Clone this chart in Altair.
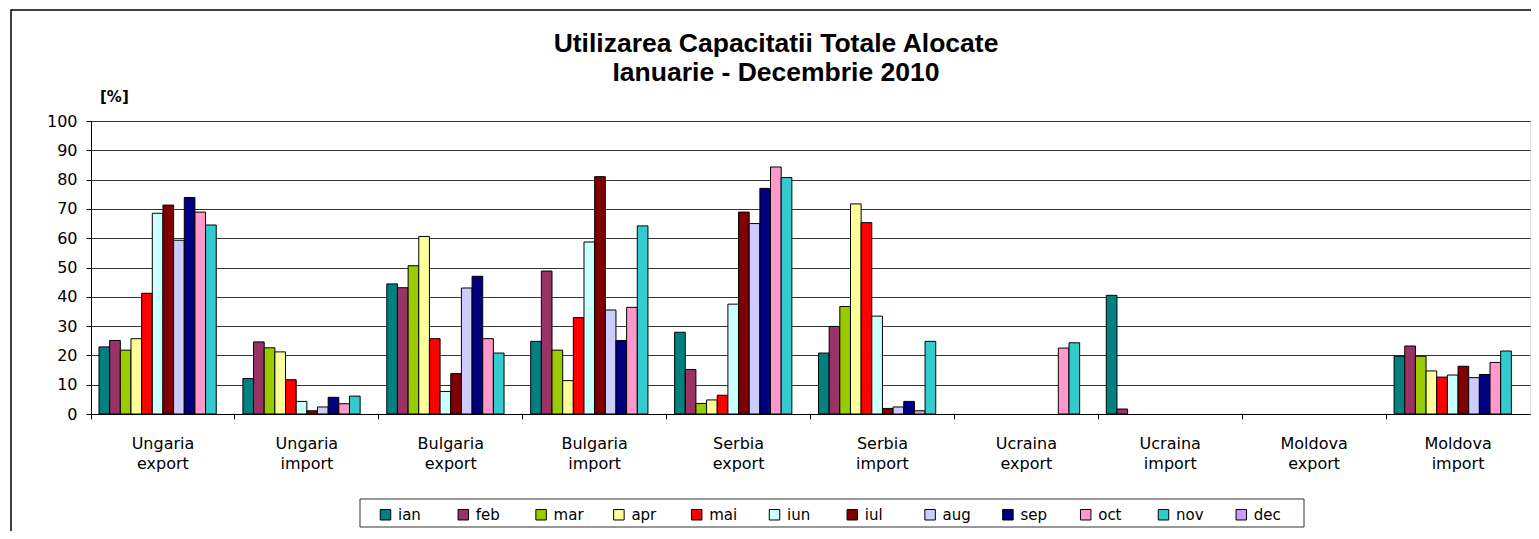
import altair as alt
import pandas as pd

months = ["ian", "feb", "mar", "apr", "mai", "iun", "iul", "aug", "sep", "oct", "nov", "dec"]
month_colors = ["#008080", "#993366", "#99CC00", "#FFFF99", "#FF0000", "#CCFFFF",
                "#800000", "#CCCCFF", "#000080", "#FF99CC", "#33CCCC", "#CC99FF"]
categories = ["Ungaria export", "Ungaria import", "Bulgaria export", "Bulgaria import",
              "Serbia export", "Serbia import", "Ucraina export", "Ucraina import",
              "Moldova export", "Moldova import"]

ungaria_export = [22.9, 25.1, 21.8, 25.7, 41.2, 68.5, 71.3, 59.3, 73.9, 68.9, 64.5, None]
ungaria_import = [12.1, 24.6, 22.6, 21.2, 11.7, 4.3, 1.1, 2.4, 5.7, 3.5, 6.1, None]
bulgaria_export = [44.4, 43.1, 50.6, 60.6, 25.7, 7.7, 13.8, 43.0, 47.0, 25.7, 20.8, None]
bulgaria_import = [24.8, 48.8, 21.8, 11.4, 32.9, 58.7, 81.0, 35.5, 25.1, 36.4, 64.2, None]
serbia_export = [27.9, 15.2, 3.6, 4.8, 6.4, 37.5, 68.9, 65.0, 77.0, 84.3, 80.7, None]
serbia_import = [20.8, 29.9, 36.7, 71.7, 65.3, 33.4, 1.9, 2.4, 4.3, 1.1, 24.8, None]
ucraina_export = [None, None, None, None, None, None, None, None, None, 22.5, 24.3, None]
ucraina_import = [40.5, 1.7, None, None, None, None, None, None, None, None, None, None]
moldova_export = [None, None, None, None, None, None, None, None, None, None, None, None]
moldova_import = [19.7, 23.2, 19.7, 14.7, 12.6, 13.3, 16.3, 12.4, 13.5, 17.6, 21.5, None]

series = [ungaria_export, ungaria_import, bulgaria_export, bulgaria_import, serbia_export,
          serbia_import, ucraina_export, ucraina_import, moldova_export, moldova_import]

title_line1 = "Utilizarea Capacitatii Totale Alocate"
title_line2 = "Ianuarie - Decembrie 2010"
unit_label = "[%]"

rows = []
for cat, vals in zip(categories, series):
    for m, v in zip(months, vals):
        if v is not None:
            rows.append({"cat": cat, "month": m, "value": v})
df = pd.DataFrame(rows)

W, H = 1439, 293
FONT = "DejaVu Sans"

bars = alt.Chart(df).mark_bar(stroke="black", strokeWidth=1).encode(
    x=alt.X("cat:N", sort=categories,
            scale=alt.Scale(domain=categories, paddingInner=0, paddingOuter=0),
            axis=alt.Axis(title=None, labelExpr="split(datum.label, ' ')", bandPosition=0,
                          ticks=True, tickSize=5, tickColor="black",
                          domainColor="black", domainWidth=1, labelAngle=0, labelFont=FONT,
                          labelFontSize=16, labelLineHeight=20, labelPadding=16,
                          labelColor="black", labelOverlap=False, grid=False)),
    xOffset=alt.XOffset("month:N", sort=months,
                        scale=alt.Scale(domain=months, paddingInner=0, paddingOuter=0.75)),
    y=alt.Y("value:Q", scale=alt.Scale(domain=[0, 100]),
            axis=alt.Axis(title=None, values=list(range(0, 101, 10)), tickSize=5,
                          tickColor="black", domainColor="black", labelFont=FONT,
                          labelFontSize=16, labelPadding=9, labelColor="black",
                          grid=True, gridColor="#333333", gridWidth=1)),
    color=alt.Color("month:N", sort=months,
                    scale=alt.Scale(domain=months, range=month_colors),
                    legend=alt.Legend(title=None, orient="none", legendX=287, legendY=386,
                                      direction="horizontal", columns=12, symbolType="square",
                                      symbolSize=110, symbolStrokeColor="black",
                                      symbolStrokeWidth=1, symbolOpacity=1,
                                      labelFont=FONT, labelFontSize=15, labelOffset=5,
                                      columnPadding=27.8, gridAlign="all", padding=0,
                                      labelColor="black")),
)

one = pd.DataFrame({"k": [0]})

border = alt.Chart(one).mark_rect(fill="transparent", stroke="black", strokeWidth=1.5).encode(
    x=alt.value(-80), x2=alt.value(1470), y=alt.value(-111), y2=alt.value(440))

legend_box = alt.Chart(one).mark_rect(fill="transparent", stroke="#333333", strokeWidth=1).encode(
    x=alt.value(269), x2=alt.value(1213), y=alt.value(378), y2=alt.value(406))

t1 = alt.Chart(pd.DataFrame({"t": [title_line1]})).mark_text(
    font="Liberation Sans", fontWeight="bold", fontSize=26.5, align="center",
    baseline="alphabetic", color="black").encode(
    text="t:N", x=alt.value(685), y=alt.value(-69))
t2 = alt.Chart(pd.DataFrame({"t": [title_line2]})).mark_text(
    font="Liberation Sans", fontWeight="bold", fontSize=26.5, align="center",
    baseline="alphabetic", color="black").encode(
    text="t:N", x=alt.value(685), y=alt.value(-40))
unit = alt.Chart(pd.DataFrame({"t": [unit_label]})).mark_text(
    font=FONT, fontWeight="bold", fontSize=15, align="left",
    baseline="alphabetic", color="black").encode(
    text="t:N", x=alt.value(9), y=alt.value(-19))

chart = alt.layer(border, legend_box, bars, t1, t2, unit).properties(
    width=W, height=H, autosize="none",
    padding={"left": 83, "top": 113, "right": 1, "bottom": 117},
).configure_view(stroke=None).configure(background="white")

chart.save("out.html", embed_options={"renderer": "svg", "actions": False})
